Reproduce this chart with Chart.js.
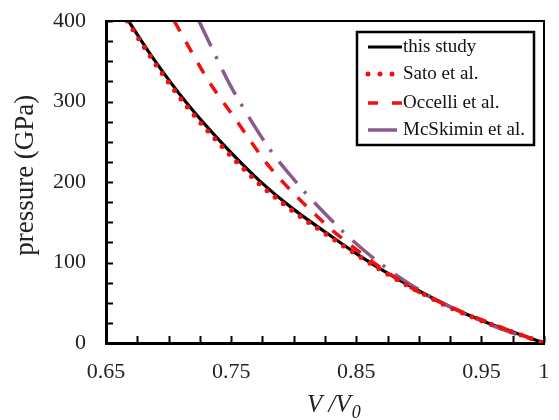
<!DOCTYPE html>
<html>
<head>
<meta charset="utf-8">
<script src="https://cdn.jsdelivr.net/npm/chart.js@4.4.1/dist/chart.umd.min.js"></script>
<style>
  html, body { margin: 0; padding: 0; background: #fff; }
</style>
</head>
<body>
<canvas id="eosChart" width="559" height="420"></canvas>
<script>
// values: V/V0 and pressure (GPa)
var seriesNames = ["this study", "Sato et al.", "Occelli et al.", "McSkimin et al."];

var thisStudyV = [0.668, 0.688, 0.7145, 0.741, 0.773, 0.800, 0.826, 0.853, 0.880, 0.901, 0.925, 0.9515, 0.978, 1.0];
var thisStudyP = [400, 353, 298, 251, 201, 166, 137, 108, 82, 64, 45, 27, 12, 0];

var satoV = [0.667, 0.688, 0.7145, 0.741, 0.773, 0.800, 0.826, 0.853, 0.880, 0.901, 0.925, 0.9515, 0.978, 1.0];
var satoP = [400, 350, 294, 247, 197, 163, 135, 107, 81, 63, 44, 27, 12, 0];

var occelliV = [0.7045, 0.7318, 0.7544, 0.777, 0.789, 0.8024, 0.817, 0.8316, 0.8476, 0.8636, 0.8796, 0.8956, 0.925, 0.95, 0.975, 1.0];
var occelliP = [400, 326, 276, 226, 204, 182, 160, 139, 119, 100, 83, 67, 45, 29, 14, 0];

var mcSkiminV = [0.7243, 0.7397, 0.749, 0.761, 0.7717, 0.783, 0.797, 0.8103, 0.8255, 0.841, 0.857, 0.8742, 0.892, 0.9114, 0.930, 0.9488, 0.970, 1.0];
var mcSkiminP = [400, 350, 321, 289, 262, 236, 209, 185, 160, 136, 114, 93, 74, 56, 41, 28, 15, 0];

var xLabelValues = [0.65, 0.75, 0.85, 0.95, 1];
var yLabelValues = [0, 100, 200, 300, 400];

function toPoints(xs, ys) {
    return xs.map(function (x, i) { return { x: x, y: ys[i] }; });
}

var serif = "'Liberation Serif', 'DejaVu Serif', serif";

// frame, inward ticks, boxed legend and the V/V0 title
var extrasPlugin = {
    id: "extras",
    afterDatasetsDraw: function (chart) {
        var ctx = chart.ctx;
        var a = chart.chartArea;
        var xs = chart.scales.x, ys = chart.scales.y;
        ctx.save();
        ctx.strokeStyle = "#000";
        ctx.lineWidth = 2;
        ctx.beginPath();
        ctx.moveTo(a.left, a.top);
        ctx.lineTo(a.right, a.top);
        ctx.lineTo(a.right, a.bottom);
        ctx.stroke();

        ctx.beginPath();
        xs.ticks.forEach(function (t) {
            var px = Math.round(xs.getPixelForValue(t.value)) + 0.5;
            ctx.moveTo(px, a.bottom);
            ctx.lineTo(px, a.bottom - 7);
        });
        ys.ticks.forEach(function (t) {
            var py = Math.round(ys.getPixelForValue(t.value)) + 0.5;
            ctx.moveTo(a.left, py);
            ctx.lineTo(a.left + 7, py);
        });
        ctx.stroke();

        // legend box
        var lx = 357, ly = 32, lw = 177, lh = 113;
        ctx.fillStyle = "#fff";
        ctx.fillRect(lx, ly, lw, lh);
        ctx.lineWidth = 2.5;
        ctx.strokeRect(lx, ly, lw, lh);
        var rowY = [47, 74, 103, 130];
        chart.data.datasets.forEach(function (ds, i) {
            ctx.save();
            ctx.strokeStyle = ds.borderColor;
            ctx.lineWidth = ds.borderWidth;
            ctx.lineCap = ds.borderCapStyle || "butt";
            ctx.setLineDash(ds.legendDash || []);
            ctx.beginPath();
            ctx.moveTo(368, rowY[i]);
            ctx.lineTo(ds.legendEnd, rowY[i]);
            ctx.stroke();
            ctx.restore();
            ctx.fillStyle = "#111";
            ctx.font = "19px " + serif;
            ctx.textBaseline = "middle";
            ctx.textAlign = "left";
            ctx.fillText(ds.label, 403, rowY[i]);
        });

        // x axis title V/V0
        ctx.fillStyle = "#222";
        ctx.textBaseline = "alphabetic";
        ctx.font = "italic 25px " + serif;
        ctx.fillText("V /V", 307, 412);
        var w = ctx.measureText("V /V").width;
        ctx.font = "italic 18px " + serif;
        ctx.fillText("0", 307 + w + 1, 418);
        ctx.restore();
    }
};

var ctx = document.getElementById("eosChart").getContext("2d");
var eosChart = new Chart(ctx, {
    type: "line",
    data: {
        datasets: [
            {
                label: seriesNames[0],
                data: toPoints(thisStudyV, thisStudyP),
                borderColor: "#000000",
                borderWidth: 3.2,
                order: 3,
                legendEnd: 402,
            },
            {
                label: seriesNames[1],
                data: toPoints(satoV, satoP),
                borderColor: "#f01010",
                borderWidth: 5,
                borderDash: [0, 10.5],
                borderCapStyle: "round",
                legendDash: [0, 12],
                legendEnd: 398,
                order: 0,
            },
            {
                label: seriesNames[2],
                data: toPoints(occelliV, occelliP),
                borderColor: "#f01010",
                borderWidth: 3.5,
                borderDash: [12, 12],
                legendDash: [10, 14],
                legendEnd: 402,
                order: 1,
            },
            {
                label: seriesNames[3],
                data: toPoints(mcSkiminV, mcSkiminP),
                borderColor: "#8b5a8c",
                borderWidth: 3.5,
                borderDash: [28, 11, 3, 12],
                legendDash: [],
                legendEnd: 397,
                order: 2,
            },
        ],
    },
    options: {
        responsive: false,
        animation: false,
        devicePixelRatio: 1,
        parsing: false,
        layout: { padding: { left: 0, right: 15, top: 21, bottom: 0 } },
        elements: {
            point: { radius: 0 },
            line: { cubicInterpolationMode: "monotone", fill: false },
        },
        plugins: {
            legend: { display: false },
            tooltip: { enabled: false },
        },
        scales: {
            x: {
                type: "linear",
                min: 0.65,
                max: 1,
                grid: { display: false, drawTicks: false },
                border: { display: true, color: "#000", width: 3 },
                ticks: {
                    stepSize: 0.025,
                    autoSkip: false,
                    maxRotation: 0,
                    padding: 16,
                    color: "#222",
                    font: { family: serif, size: 22 },
                    callback: function (value) {
                        var hit = xLabelValues.some(function (v) { return Math.abs(v - value) < 1e-6; });
                        return hit ? String(Number(value.toFixed(2))) : "";
                    },
                },
                afterFit: function (s) {
                    s.height = 77;
                    s.paddingLeft = 0;
                    s.paddingRight = 0;
                },
            },
            y: {
                type: "linear",
                min: 0,
                max: 400,
                grid: { display: false, drawTicks: false },
                border: { display: true, color: "#000", width: 3 },
                title: {
                    display: true,
                    text: "  pressure (GPa)",
                    color: "#222",
                    font: { family: serif, size: 27 },
                    padding: { top: 10, bottom: 0 },
                },
                ticks: {
                    stepSize: 25,
                    autoSkip: false,
                    padding: 20,
                    color: "#222",
                    font: { family: serif, size: 22 },
                    callback: function (value) {
                        return yLabelValues.indexOf(value) >= 0 ? String(value) : "";
                    },
                },
                afterFit: function (s) {
                    s.width = 106;
                    s.paddingTop = 0;
                    s.paddingBottom = 0;
                },
            },
        },
    },
    plugins: [extrasPlugin],
});
</script>
</body>
</html>
